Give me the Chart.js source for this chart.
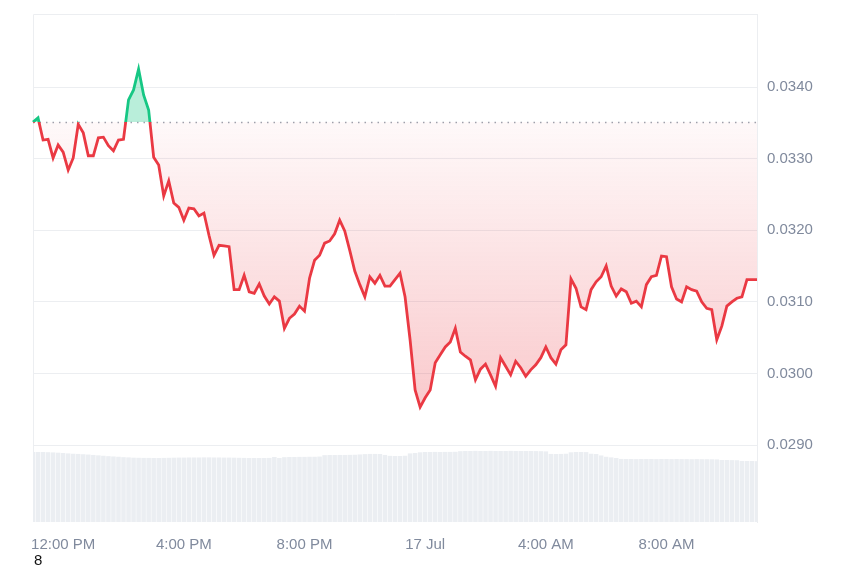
<!DOCTYPE html>
<html>
<head>
<meta charset="utf-8">
<script src="https://cdn.jsdelivr.net/npm/chart.js@4.4.0/dist/chart.umd.min.js"></script>
<style>
  body { margin: 0; background: #fff; }
  #wrap { position: relative; width: 850px; height: 567px; }
  #note { position: absolute; left: 34px; top: 552px; font: 15px "Liberation Sans", Arial, sans-serif; line-height: 15px; color: #111; }
</style>
</head>
<body>
<div id="wrap">
  <canvas id="priceChart"></canvas>
  <div id="note">8</div>
</div>
<script>
// price every 10 minutes, 16 Jul 11:00 AM -> 17 Jul 11:00 AM
var prices = [
  0.03351, 0.03357, 0.03326, 0.03327, 0.03301, 0.03319, 0.03309, 0.03284, 0.03301, 0.03348,
  0.03336, 0.03304, 0.03304, 0.03329, 0.03330, 0.03318, 0.03311, 0.03326, 0.03327, 0.03382,
  0.03396, 0.03425, 0.03389, 0.03368, 0.03302, 0.03291, 0.03248, 0.03269, 0.03238, 0.03232,
  0.03214, 0.03231, 0.03230, 0.03220, 0.03224, 0.03193, 0.03165, 0.03179, 0.03178, 0.03177,
  0.03117, 0.03117, 0.03137, 0.03114, 0.03112, 0.03125, 0.03108, 0.03097, 0.03107, 0.03101,
  0.03063, 0.03077, 0.03083, 0.03094, 0.03087, 0.03133, 0.03158, 0.03165, 0.03182, 0.03185,
  0.03195, 0.03214, 0.03199, 0.03172, 0.03143, 0.03124, 0.03107, 0.03135, 0.03126, 0.03137,
  0.03122, 0.03122, 0.03131, 0.03140, 0.03107, 0.03047, 0.02977, 0.02953, 0.02966, 0.02977,
  0.03015, 0.03026, 0.03037, 0.03044, 0.03063, 0.03030, 0.03024, 0.03019, 0.02991, 0.03006,
  0.03013, 0.02998, 0.02982, 0.03022, 0.03010, 0.02998, 0.03017, 0.03008, 0.02996, 0.03005,
  0.03012, 0.03022, 0.03037, 0.03022, 0.03013, 0.03033, 0.03040, 0.03132, 0.03119, 0.03093,
  0.03089, 0.03117, 0.03128, 0.03135, 0.03150, 0.03122, 0.03108, 0.03118, 0.03114, 0.03098,
  0.03101, 0.03093, 0.03124, 0.03135, 0.03137, 0.03164, 0.03163, 0.03121, 0.03104, 0.03100,
  0.03121, 0.03117, 0.03115, 0.03100, 0.03091, 0.03089, 0.03047, 0.03066, 0.03094, 0.03100,
  0.03105, 0.03107, 0.03131, 0.03131, 0.03131
];

// 24h volume (millions)
var volumes = [
  6.89, 6.89, 6.89, 6.87, 6.85, 6.82, 6.79, 6.75, 6.72, 6.70,
  6.67, 6.64, 6.60, 6.56, 6.52, 6.48, 6.45, 6.42, 6.38, 6.36,
  6.33, 6.32, 6.31, 6.31, 6.30, 6.30, 6.31, 6.32, 6.33, 6.34,
  6.34, 6.35, 6.35, 6.35, 6.36, 6.36, 6.35, 6.35, 6.34, 6.34,
  6.33, 6.32, 6.31, 6.30, 6.30, 6.30, 6.30, 6.31, 6.40, 6.30,
  6.38, 6.40, 6.40, 6.41, 6.41, 6.42, 6.42, 6.44, 6.58, 6.59,
  6.59, 6.60, 6.60, 6.61, 6.62, 6.65, 6.68, 6.70, 6.70, 6.69,
  6.60, 6.51, 6.50, 6.50, 6.52, 6.75, 6.79, 6.86, 6.89, 6.89,
  6.90, 6.89, 6.90, 6.90, 6.91, 6.97, 6.99, 6.99, 7.00, 6.99,
  6.99, 7.00, 6.99, 6.99, 6.99, 7.00, 6.99, 6.99, 6.99, 6.99,
  6.98, 6.97, 6.95, 6.70, 6.69, 6.70, 6.72, 6.86, 6.89, 6.89,
  6.88, 6.72, 6.69, 6.55, 6.42, 6.36, 6.30, 6.21, 6.20, 6.20,
  6.19, 6.20, 6.20, 6.20, 6.19, 6.20, 6.20, 6.19, 6.20, 6.19,
  6.19, 6.18, 6.19, 6.18, 6.18, 6.17, 6.16, 6.10, 6.10, 6.09,
  6.08, 6.01, 6.00, 6.00, 5.99
];

var baseline = 0.03351;
var tickLabels = ['12:00 PM', '4:00 PM', '8:00 PM', '17 Jul', '4:00 AM', '8:00 AM'];
var priceTicks = [0.0290, 0.0300, 0.0310, 0.0320, 0.0330, 0.0340];
var priceMin = 0.027925, priceMax = 0.03502;
var volumeMax = 50;

var green = '#16c784', red = '#ea3943';

// category labels, one per 10 min step
var timeLabels = [];
for (var i = 0; i < prices.length; i++) {
  var m = (11 * 60 + i * 10) % 1440;
  var h = Math.floor(m / 60), mm = m % 60;
  if (m === 0) { timeLabels.push('17 Jul'); continue; }
  var h12 = h % 12 === 0 ? 12 : h % 12;
  timeLabels.push(h12 + ':' + (mm < 10 ? '0' : '') + mm + (h < 12 ? ' AM' : ' PM'));
}

// green above the opening price, red below
function lineColor(context) {
  var chart = context.chart, area = chart.chartArea;
  if (!area) return red;
  var yb = chart.scales.y.getPixelForValue(baseline);
  var r = Math.min(1, Math.max(0, (yb - area.top) / (area.bottom - area.top)));
  var g = chart.ctx.createLinearGradient(0, area.top, 0, area.bottom);
  g.addColorStop(0, green); g.addColorStop(r, green);
  g.addColorStop(r, red); g.addColorStop(1, red);
  return g;
}

function belowFill(context) {
  var chart = context.chart;
  if (!chart.chartArea) return 'rgba(234,57,67,0.1)';
  var y = chart.scales.y;
  var g = chart.ctx.createLinearGradient(0, y.getPixelForValue(baseline), 0, y.getPixelForValue(0.0295));
  g.addColorStop(0, 'rgba(234,57,67,0.03)');
  g.addColorStop(1, 'rgba(234,57,67,0.27)');
  return g;
}

var framePlugin = {
  id: 'frame',
  beforeDatasetsDraw: function(chart) {
    var a = chart.chartArea, c = chart.ctx;
    c.save();
    c.strokeStyle = '#eceef1';
    c.lineWidth = 1;
    c.beginPath();
    c.moveTo(a.left + 0.5, a.bottom);
    c.lineTo(a.left + 0.5, Math.round(a.top) + 0.5);
    c.lineTo(a.right, Math.round(a.top) + 0.5);
    c.stroke();
    // dotted line at opening price
    var yb = Math.round(chart.scales.y.getPixelForValue(baseline)) + 0.5;
    c.strokeStyle = '#9ca3ae';
    c.lineWidth = 1.5;
    c.setLineDash([1.5, 5]);
    c.beginPath();
    c.moveTo(a.left, yb);
    c.lineTo(a.right, yb);
    c.stroke();
    c.restore();
  }
};

var tickFont = { family: '"Liberation Sans", Arial, sans-serif', size: 15 };

var ctx = document.getElementById('priceChart');
var myChart = new Chart(ctx, {
  type: 'line',
  data: {
    labels: timeLabels,
    datasets: [{
      label: 'Price',
      data: prices,
      yAxisID: 'y',
      borderColor: lineColor,
      backgroundColor: belowFill,
      borderWidth: 2.8,
      pointRadius: 0,
      tension: 0,
      fill: { target: { value: baseline }, above: 'rgba(22,199,132,0.3)' },
      order: 0
    }, {
      type: 'bar',
      label: 'Volume',
      data: volumes,
      yAxisID: 'y2',
      backgroundColor: '#ebeef2',
      barPercentage: 1,
      categoryPercentage: 0.9,
      order: 1
    }]
  },
  options: {
    responsive: true,
    maintainAspectRatio: false,
    animation: false,
    layout: { padding: { left: 33, top: 14, right: 37, bottom: 13 } },
    plugins: { legend: { display: false }, tooltip: { enabled: false } },
    scales: {
      x: {
        type: 'category',
        offset: false,
        grid: { display: false, drawTicks: false },
        border: { display: false },
        afterBuildTicks: function(scale) {
          scale.ticks = tickLabels.map(function(t) { return { value: timeLabels.indexOf(t) }; });
        },
        afterFit: function(scale) {
          scale.height = 32;
          scale.paddingLeft = 0; scale.paddingRight = 0;
        },
        ticks: { autoSkip: false, maxRotation: 0, padding: 14, color: '#808a9d', font: tickFont }
      },
      y: {
        position: 'right',
        min: priceMin,
        max: priceMax,
        afterBuildTicks: function(scale) {
          scale.ticks = priceTicks.map(function(v) { return { value: v }; });
        },
        afterFit: function(scale) {
          scale.width = 56;
          scale.paddingTop = 0; scale.paddingBottom = 0;
        },
        grid: { color: '#eceef1', drawTicks: false },
        border: { display: true, color: '#eceef1' },
        ticks: {
          padding: 10, color: '#808a9d', font: tickFont,
          callback: function(v) { return v.toFixed(4); }
        }
      },
      y2: {
        display: false,
        min: 0,
        max: volumeMax
      }
    }
  },
  plugins: [framePlugin]
});
</script>
</body>
</html>
